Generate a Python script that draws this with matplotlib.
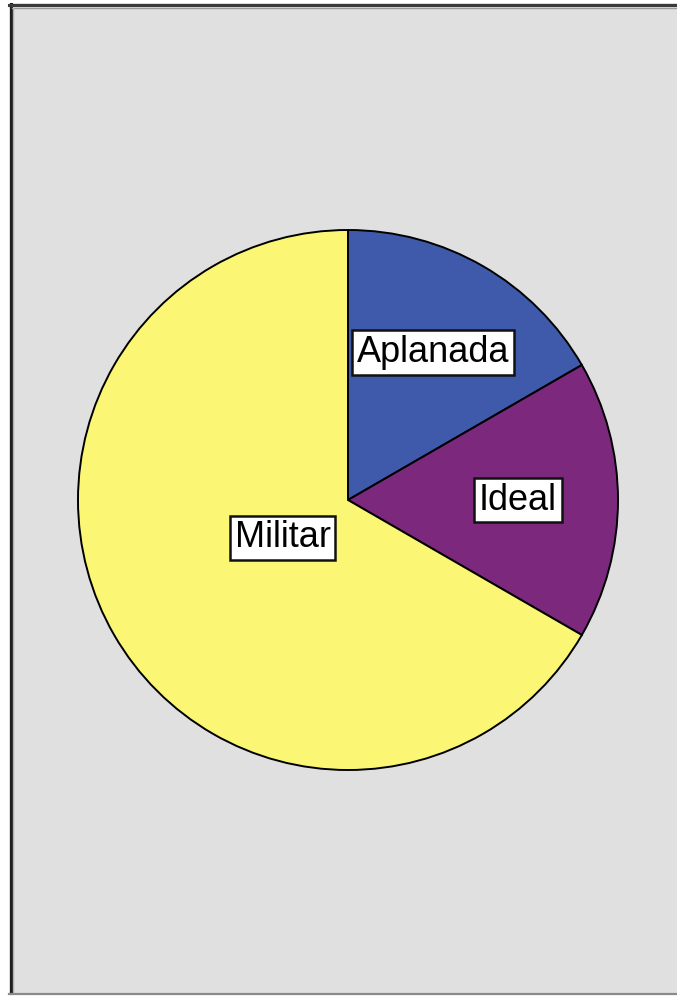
import numpy as np
import matplotlib
matplotlib.use("Agg")
import matplotlib.pyplot as plt
from matplotlib.patches import Rectangle

labels = ["Aplanada", "Ideal", "Militar"]
values = [1, 1, 4]
colors = ["#3F5AAB", "#7B287D", "#FBF774"]
label_radius = [0.63, 0.63, 0.28]

W, H = 677, 996
fig = plt.figure(figsize=(W / 100, H / 100), dpi=100)
fig.patch.set_facecolor("white")

# panel background and frame
fig.add_artist(Rectangle((9 / W, 3 / H), 1.0, 990 / H, transform=fig.transFigure,
                         facecolor="#E0E0E0", edgecolor="none", zorder=-5))
frame = [
    ([10.5 / W, 10.5 / W], [3 / H, 992 / H], "#1E1E1E", 2.2),
    ([9 / W, 1.0], [(H - 5.5) / H, (H - 5.5) / H], "#3A3A3A", 2.2),
    ([12 / W, 1.0], [(H - 8) / H, (H - 8) / H], "#9A9A9A", 1.0),
    ([13 / W, 13 / W], [3 / H, (H - 8) / H], "#B0B0B0", 1.0),
    ([9 / W, 1.0], [2 / H, 2 / H], "#8A8A8A", 1.6),
]
for xs, ys, c, lw in frame:
    fig.add_artist(plt.Line2D(xs, ys, color=c, lw=lw, transform=fig.transFigure, zorder=-4))

cx, cy, r = 348, 500, 270
ax = fig.add_axes([(cx - r) / W, (H - cy - r) / H, 2 * r / W, 2 * r / H], zorder=2)

wedges, _ = ax.pie(values, colors=colors, startangle=90, counterclock=False,
                   radius=1.0, wedgeprops=dict(edgecolor="black", linewidth=1.4))
ax.set_xlim(-1.0, 1.0)
ax.set_ylim(-1.0, 1.0)
ax.set_aspect("equal")
ax.axis("off")

for w, lab, lr in zip(wedges, labels, label_radius):
    ang = np.deg2rad((w.theta1 + w.theta2) / 2)
    x, y = lr * np.cos(ang), lr * np.sin(ang)
    ax.text(x, y, lab, ha="center", va="center", fontsize=26,
            family=["Liberation Sans", "DejaVu Sans"], color="black",
            bbox=dict(boxstyle="square,pad=0.13", facecolor="white",
                      edgecolor="#111111", linewidth=1.8))

fig.savefig("out.png", dpi=100)
